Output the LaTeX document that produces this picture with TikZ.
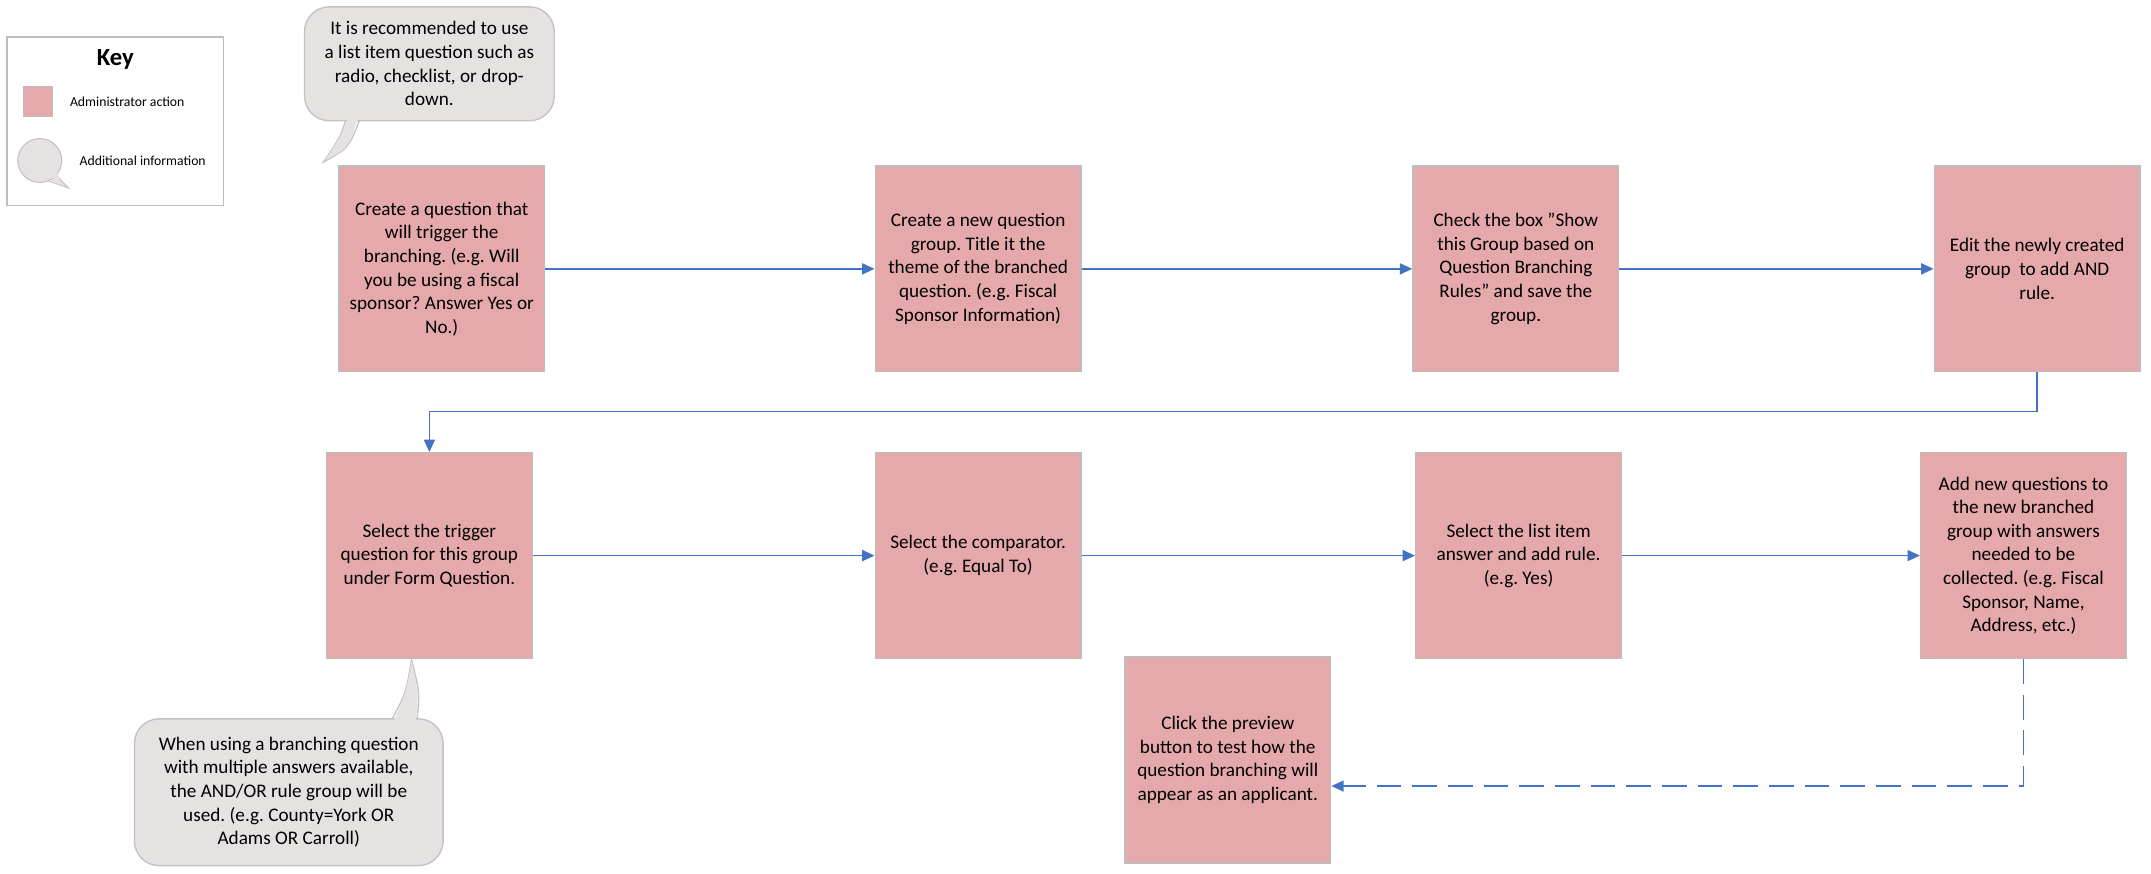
\documentclass[tikz,border=0pt]{standalone}
\usepackage{fontspec}
\setmainfont{Carlito}[Ligatures=ResetAll]
\usetikzlibrary{arrows.meta}
\hyphenpenalty=10000
\frenchspacing
\definecolor{pinkf}{HTML}{E6A9AB}
\definecolor{pinkd}{HTML}{BDBDBD}
\definecolor{calf}{HTML}{E6E2E1}
\definecolor{cald}{HTML}{C4C2C2}
\definecolor{arr}{HTML}{4472C4}
\begin{document}
\begin{tikzpicture}[x=0.5pt,y=-0.5pt,
  act/.style={draw=pinkd,fill=pinkf,line width=0.5pt,minimum width=75pt,minimum height=75pt,align=center,inner sep=1pt,font=\fontsize{7}{8.6}\selectfont},
  callout/.style={draw=cald,fill=calf,line width=0.5pt,rounded corners=9pt,align=center,inner sep=2pt,font=\fontsize{7}{8.6}\selectfont},
  flow/.style={draw=arr,line width=0.6pt,-{Triangle[length=4.5pt,width=4pt]}}]
\useasboundingbox (0,0) rectangle (1568,637);
% key
\node[draw=pinkd,line width=0.5pt,minimum width=79pt,minimum height=61.5pt] (key) at (84,88.5) {};
\node[font=\bfseries\fontsize{9}{10}\selectfont] (keyt) at (84,43) {Key};
\node[draw=pinkd,fill=pinkf,line width=0.4pt,minimum width=10.5pt,minimum height=11pt,inner sep=0pt] (keyp) at (27.5,74) {};
\node[anchor=west,font=\fontsize{5}{6}\selectfont] (keypl) at (44,74) {Administrator action};
\fill[calf] (25,126) -- (50,137) -- (38,124) -- cycle;
\draw[cald,line width=0.4pt] (38,125) -- (50,137) -- (33,131);
\node[draw=cald,fill=calf,circle,line width=0.4pt,minimum size=16pt,inner sep=0pt] (keyc) at (29,117) {};
\fill[calf] (30,128) -- (45,131) -- (38,122) -- cycle;
\node[anchor=west,font=\fontsize{5}{6}\selectfont] (keycl) at (51,117) {Additional information};
% boxes
\node[act] (b1) at (322,196) {Create a question that\\will trigger the\\branching. (e.g. Will\\you be using a fiscal\\sponsor? Answer Yes or\\No.)};
\node[act] (b2) at (713,196) {Create a new question\\group. Title it the\\theme of the branched\\question. (e.g. Fiscal\\Sponsor Information)};
\node[act] (b3) at (1105,196) {Check the box "Show\\this Group based on\\Question Branching\\Rules" and save the\\group.};
\node[act] (b4) at (1485,196) {Edit the newly created\\group\ \ to add AND\\rule.};
\node[act] (b5) at (313,405) {Select the trigger\\question for this group\\under Form Question.};
\node[act] (b6) at (713,405) {Select the comparator.\\(e.g. Equal To)};
\node[act] (b7) at (1107,405) {Select the list item\\answer and add rule.\\(e.g. Yes)};
\node[act] (b8) at (1475,405) {Add new questions to\\the new branched\\group with answers\\needed to be\\collected. (e.g. Fiscal\\Sponsor, Name,\\Address, etc.)};
\node[act] (b9) at (895,554) {Click the preview\\button to test how the\\question branching will\\appear as an applicant.};
% callouts
\draw[cald,line width=0.5pt] (252,88) .. controls (248,100) .. (236,118) .. controls (254,108) .. (262,88);
\node[callout,minimum width=91pt,minimum height=41.5pt] (c1) at (313,46.5) {It is recommended to use\\a list item question such as\\radio, checklist, or drop-\\down.};
\fill[calf] (254,86) .. controls (248,100) .. (237,117) .. controls (254,108) .. (261,86) -- cycle;
\draw[cald,line width=0.5pt] (286,524) .. controls (296,505) .. (300,481) .. controls (306,505) .. (304,524);
\node[callout,minimum width=112.5pt,minimum height=53.5pt] (c2) at (210.5,577.5) {When using a branching question\\with multiple answers available,\\the AND/OR rule group will be\\used. (e.g. County=York OR\\Adams OR Carroll)};
\fill[calf] (287,526) .. controls (296,505) .. (300,482) .. controls (305,505) .. (303,526) -- cycle;
% connectors
\draw[flow] (b1.east |- 0,196) -- (b2.west |- 0,196);
\draw[flow] (b2) -- (b3);
\draw[flow] (b3) -- (b4);
\draw[flow] (b4.south) -- (1485,300) -- (313,300) -- (b5.north);
\draw[flow] (b5) -- (b6);
\draw[flow] (b6) -- (b7);
\draw[flow] (b7) -- (b8);
\draw[flow,dash pattern=on 9pt off 4pt] (b8.south) -- (1475,573) -- (b9.east |- 0,573);
\end{tikzpicture}
\end{document}
